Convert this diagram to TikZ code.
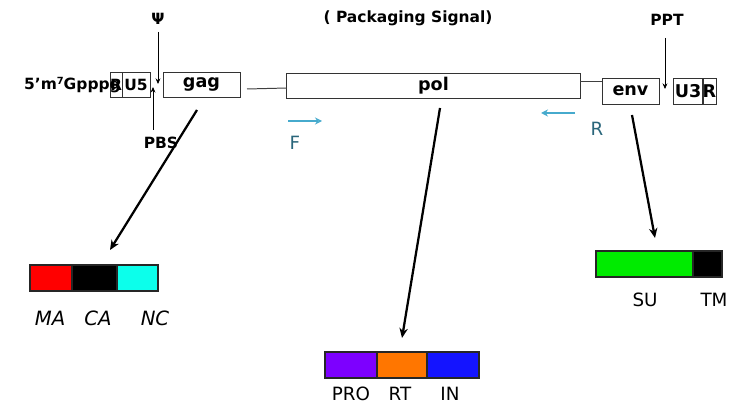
\documentclass[tikz,border=0pt]{standalone}
\usepackage{fontspec}
\setmainfont{DejaVu Sans}
\usetikzlibrary{arrows.meta}
\definecolor{primer}{RGB}{70,170,205}
\definecolor{capsid}{RGB}{12,255,235}
\definecolor{prot}{RGB}{125,0,255}
\definecolor{revt}{RGB}{255,118,0}
\definecolor{integ}{RGB}{20,20,255}
\definecolor{surf}{RGB}{0,235,0}
\tikzset{
  gene/.style={draw=black!80, line width=0.7pt, inner sep=0pt, outer sep=0pt,
    minimum height=0.625cm, font=\bfseries\fontsize{12.5}{13}\selectfont},
  part/.style={draw=black!85, line width=1.1pt, inner sep=0pt, outer sep=0pt,
    minimum height=0.65cm},
  lab/.style={font=\bfseries\fontsize{11}{12}\selectfont, inner sep=0pt},
  plab/.style={font=\fontsize{13}{14}\selectfont, inner sep=0pt},
  cleave/.style={-{Stealth[length=7pt,width=6pt]}, line width=1.6pt},
  sigarrow/.style={-{Stealth[length=4pt,width=3.5pt]}, line width=0.6pt}
}
\begin{document}
\begin{tikzpicture}[x=0.025cm, y=-0.025cm]
  \useasboundingbox (0,0) rectangle (729,406);
  % genome
  \node[gene, minimum width=0.3cm, font=\bfseries\fontsize{11}{12}\selectfont] (r5) at (116,85) {R};
  \node[gene, minimum width=0.7cm, font=\bfseries\fontsize{11}{12}\selectfont] (u5) at (136,85) {U5};
  \node[lab, anchor=base east] (cap) at (121,90) {5’m\raisebox{0.6ex}{\fontsize{7}{7}\selectfont 7}Gpppg};
  \node[gene, minimum width=1.925cm] (gag) at (201.5,84.5) {gag};
  \node[gene, minimum width=7.325cm] (pol) at (433.5,85.5) {pol};
  \node[gene, minimum width=1.425cm, minimum height=0.65cm] (env) at (630.5,91) {env};
  \node[gene, minimum width=0.75cm, minimum height=0.65cm] (u3) at (688,91) {U3};
  \node[gene, minimum width=0.325cm, minimum height=0.65cm] (r3) at (709.5,91) {R};
  \draw[line width=0.7pt, black!75] (247,89) -- (pol.west |- 0,88);
  \draw[line width=0.7pt, black!75] (pol.east |- 0,81) -- (env.west |- 0,81);
  % signals
  \node[lab] (psi) at (158,19) {Ψ};
  \node[lab] (pbs) at (161,143) {PBS};
  \node[lab] (pack) at (408,18) {( Packaging Signal)};
  \node[lab] (ppt) at (667,20) {PPT};
  \coordinate (psihead) at (158,84);
  \coordinate (pbshead) at (153,87);
  \coordinate (ppthead) at (665,89);
  \draw[sigarrow] (psi.south |- 0,32) -- (psihead);
  \draw[sigarrow] (pbshead |- 0,130) -- (pbshead);
  \draw[sigarrow] (ppthead |- 0,38) -- (ppthead);
  % primers
  \node[plab, text=primer!60!black] (fwd) at (295,143) {F};
  \node[plab, text=primer!60!black] (rev) at (597,129) {R};
  \draw[-{Stealth[length=5pt,width=5pt,open]}, primer, line width=0.8pt] (288,121) -- (322,121);
  \draw[-{Stealth[length=5pt,width=5pt,open]}, primer, line width=0.8pt] (575,113) -- (541,113);
  % gag products
  \node[part, fill=red, minimum width=1.05cm] (ma) at (51,278) {};
  \node[part, fill=black, minimum width=1.125cm] (ca) at (94.5,278) {};
  \node[part, fill=capsid, minimum width=1.025cm] (nc) at (137.5,278) {};
  \node[plab, font=\itshape\fontsize{14}{15}\selectfont] (malab) at (50,318) {MA};
  \node[plab, font=\itshape\fontsize{14}{15}\selectfont] (calab) at (98,318) {CA};
  \node[plab, font=\itshape\fontsize{14}{15}\selectfont] (nclab) at (155,318) {NC};
  % pol products
  \node[part, fill=prot, minimum width=1.3cm] (pro) at (351,365) {};
  \node[part, fill=revt, minimum width=1.25cm] (rt) at (402,365) {};
  \node[part, fill=integ, minimum width=1.3cm] (in) at (453,365) {};
  \node[plab] (prolab) at (351,394) {PRO};
  \node[plab] (rtlab) at (400,394) {RT};
  \node[plab] (inlab) at (450,394) {IN};
  % env products
  \node[part, fill=surf, minimum width=2.425cm] (su) at (644.5,264) {};
  \node[part, fill=black, minimum width=0.725cm] (tm) at (707.5,264) {};
  \node[plab] (sulab) at (645,300) {SU};
  \node[plab] (tmlab) at (714,300) {TM};
  % cleavage arrows
  \coordinate (gagtail) at (197,110);
  \coordinate (poltail) at (440,108);
  \coordinate (envtail) at (632,115);
  \draw[cleave] (gagtail) -- (110,250);
  \draw[cleave] (poltail) -- (rt.north |- 0,338);
  \draw[cleave] (envtail) -- (655,238);
\end{tikzpicture}
\end{document}
